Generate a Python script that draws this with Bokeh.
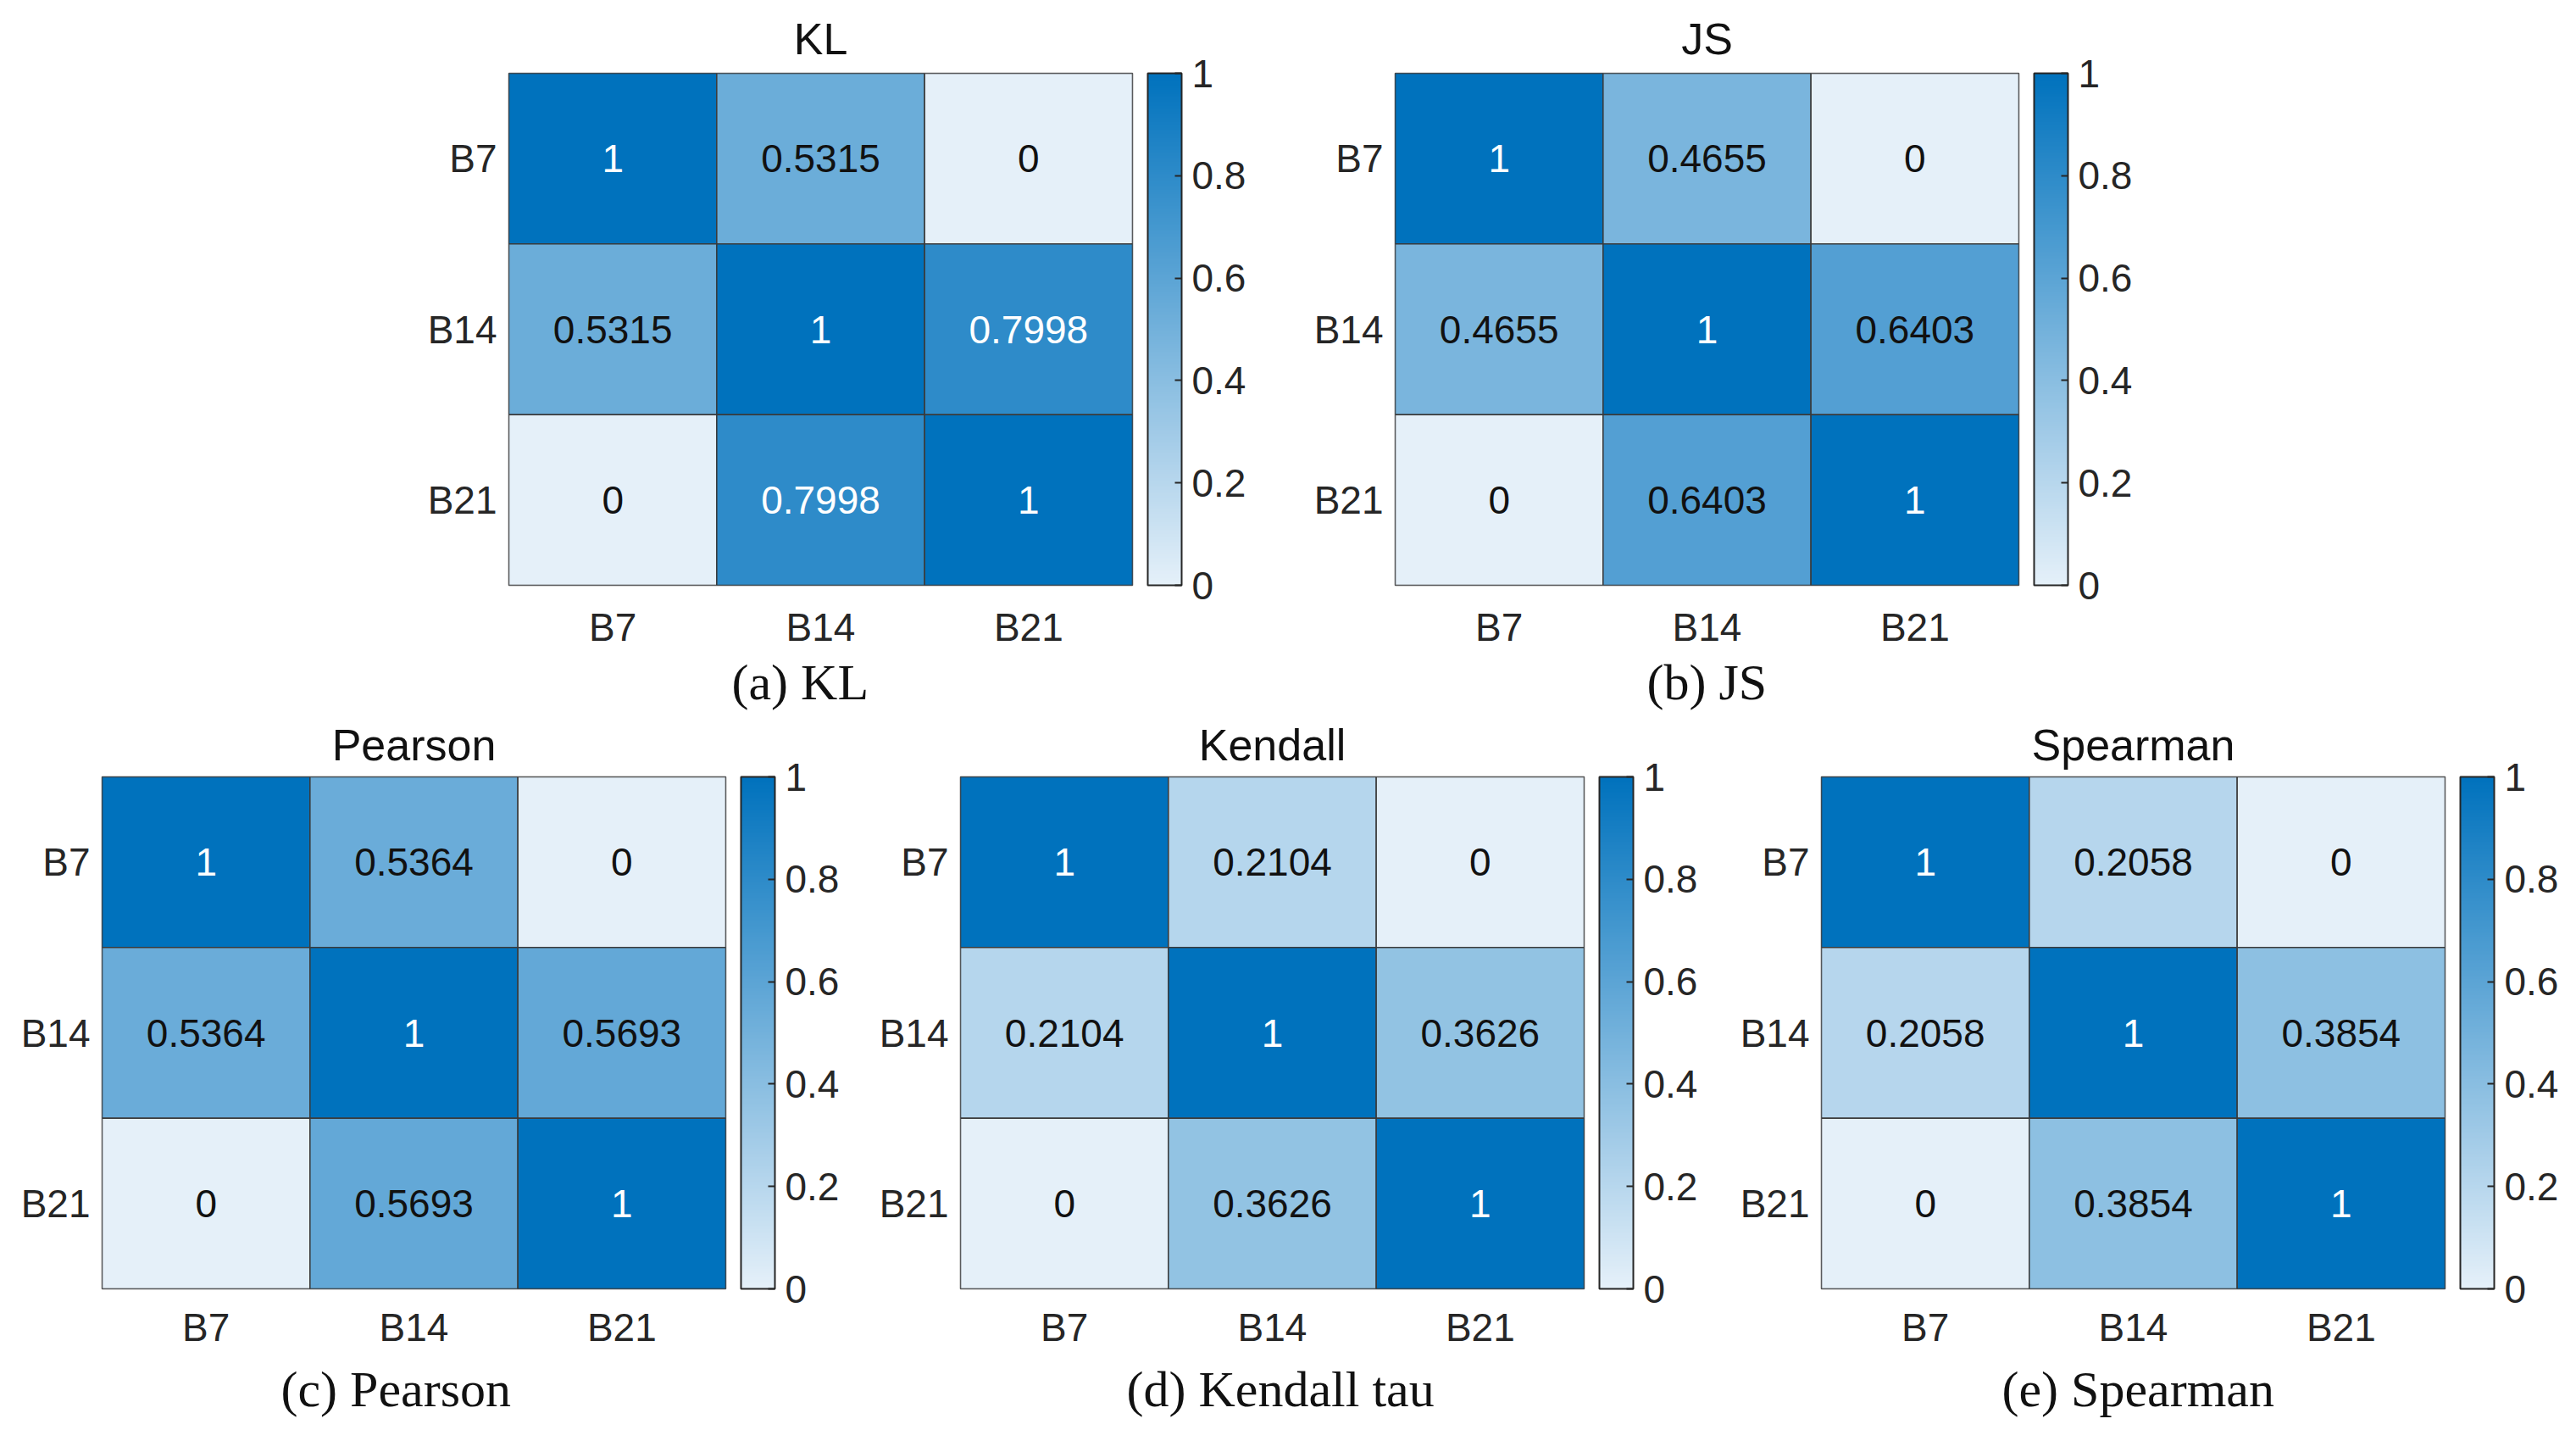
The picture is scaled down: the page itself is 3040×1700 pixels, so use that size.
from bokeh.plotting import figure
from bokeh.models import ColumnDataSource, LinearColorMapper, ColorBar, FixedTicker, Title, CustomJSTickFormatter
from bokeh.layouts import row, column
from bokeh.embed import file_html
from bokeh.resources import INLINE
from bokeh.core.properties import value

# ---------------- data ----------------
labels = ["B7", "B14", "B21"]
kl = [[1, 0.5315, 0], [0.5315, 1, 0.7998], [0, 0.7998, 1]]
js = [[1, 0.4655, 0], [0.4655, 1, 0.6403], [0, 0.6403, 1]]
pearson = [[1, 0.5364, 0], [0.5364, 1, 0.5693], [0, 0.5693, 1]]
kendall = [[1, 0.2104, 0], [0.2104, 1, 0.3626], [0, 0.3626, 1]]
spearman = [[1, 0.2058, 0], [0.2058, 1, 0.3854], [0, 0.3854, 1]]
titles = ["KL", "JS", "Pearson", "Kendall", "Spearman"]
captions = ["(a) KL", "(b) JS", "(c) Pearson", "(d) Kendall tau", "(e) Spearman"]
cbar_ticks = [0, 0.2, 0.4, 0.6, 0.8, 1]

# ---------------- style ----------------
LOW = (229, 240, 249)
HIGH = (0, 114, 189)
palette = ["#%02x%02x%02x" % tuple(int(round(a + (b - a) * i / 255)) for a, b in zip(LOW, HIGH))
           for i in range(256)]
mapper = LinearColorMapper(palette=palette, low=0, high=1)
SANS = "Liberation Sans"
SERIF = "Liberation Serif"
FW, FH = 736, 604


def make(mat, title, caption, left, right, top, bottom, title_standoff, xlab_standoff,
         cap_left, cap_standoff):
    xs, ys, vs, txt, tcol = [], [], [], [], []
    for i, r in enumerate(labels):
        for j, c in enumerate(labels):
            v = mat[i][j]
            xs.append(c)
            ys.append(r)
            vs.append(v)
            txt.append(f"{v:g}")
            tcol.append("#ffffff" if v > 0.7 else "#111111")
    src = ColumnDataSource(dict(x=xs, y=ys, v=vs, t=txt, tc=tcol))
    p = figure(x_range=labels, y_range=labels[::-1], frame_width=FW, frame_height=FH,
               min_border_left=left, min_border_right=right, min_border_top=top,
               min_border_bottom=bottom, output_backend="svg", toolbar_location=None,
               tools="")
    p.title.text = title
    p.title.align = "center"
    p.title.text_font = SANS
    p.title.text_font_size = "52px"
    p.title.text_font_style = "normal"
    p.title.text_color = "#111111"
    p.title.standoff = title_standoff
    p.rect(x="x", y="y", width=1, height=1, source=src,
           fill_color={"field": "v", "transform": mapper},
           line_color="#3a3a3a", line_width=1.5)
    p.text(x="x", y="y", text="t", text_color="tc", source=src,
           text_align="center", text_baseline="middle",
           text_font=value(SANS), text_font_size="46px")
    p.grid.grid_line_color = None
    p.outline_line_color = "#555555"
    p.outline_line_width = 1.5
    for ax in (p.xaxis, p.yaxis):
        ax.axis_line_color = None
        ax.major_tick_line_color = None
        ax.minor_tick_line_color = None
        ax.major_tick_out = 0
        ax.major_label_text_font = SANS
        ax.major_label_text_font_size = "46px"
        ax.major_label_text_color = "#262626"
    p.xaxis.major_label_standoff = xlab_standoff
    p.yaxis.major_label_standoff = 14
    cb = ColorBar(color_mapper=mapper, ticker=FixedTicker(ticks=cbar_ticks),
                  formatter=CustomJSTickFormatter(code="return String(tick)"),
                  width=40, height=FH, margin=0, padding=0, location=(18, 0),
                  bar_line_color="#262626", bar_line_width=2,
                  major_tick_line_color="#262626", major_tick_line_width=2,
                  major_tick_in=8, major_tick_out=0, minor_tick_line_color=None,
                  label_standoff=12, major_label_text_font=SANS,
                  major_label_text_font_size="46px", major_label_text_color="#262626",
                  background_fill_color=None, border_line_color=None)
    p.add_layout(cb, "right")
    cap = Title(text=caption, align="left", offset=cap_left, text_font=SERIF,
                text_font_size="60px", text_font_style="normal", text_color="#111111",
                standoff=cap_standoff)
    p.add_layout(cap, "below")
    return p


f_kl = make(kl, titles[0], captions[0], 600, 200, 86, 140, 24, 23, 263, 3)
f_js = make(js, titles[1], captions[1], 110, 200, 86, 140, 24, 23, 297, 3)
f_p = make(pearson, titles[2], captions[2], 120, 165, 73, 160, 17, 19, 211, 19)
f_k = make(kendall, titles[3], captions[3], 112, 168, 73, 160, 17, 19, 196, 19)
f_s = make(spearman, titles[4], captions[4], 112, 140, 73, 160, 17, 19, 213, 19)

layout = column(row(f_kl, f_js), row(f_p, f_k, f_s))
open("out.html", "w").write(file_html(layout, INLINE))
